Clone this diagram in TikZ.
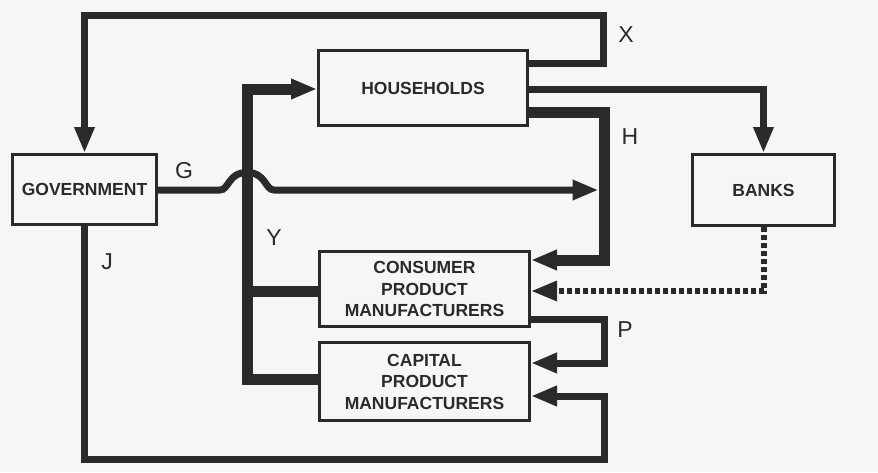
\documentclass[tikz,border=0pt]{standalone}
\usepackage{fontspec}
\setmainfont{Liberation Sans}
\usetikzlibrary{arrows.meta}
\definecolor{ink}{RGB}{42,42,42}
\definecolor{paper}{RGB}{246,246,246}
\begin{document}
\begin{tikzpicture}[x=1pt,y=-1pt,
  box/.style={draw=ink, line width=3pt, inner sep=0pt, text=ink, align=center,
    font=\bfseries\fontsize{17.5}{21.5}\selectfont},
  thinline/.style={draw=ink, line width=7pt},
  thickline/.style={draw=ink, line width=11pt},
  dotline/.style={draw=ink, line width=6pt, dash pattern=on 5pt off 3pt},
  arr/.style={-{Triangle[length=26pt,width=19pt]}},
  lbl/.style={text=ink, inner sep=0pt, font=\fontsize{23}{23}\selectfont},
]
\fill[paper] (0,0) rectangle (878,472);
\useasboundingbox (0,0) rectangle (878,472);

% boxes
\node[box, minimum width=209pt, minimum height=75pt] (hh) at (423,88) {HOUSEHOLDS};
\node[box, minimum width=144pt, minimum height=70pt] (gov) at (84.5,189.5) {GOVERNMENT};
\node[box, minimum width=142pt, minimum height=71pt] (banks) at (763.5,190) {BANKS};
\node[box, minimum width=210pt, minimum height=75pt] (cons) at (424.5,289) {CONSUMER\\PRODUCT\\MANUFACTURERS};
\node[box, minimum width=210pt, minimum height=78pt] (cap) at (424.5,381.5) {CAPITAL\\PRODUCT\\MANUFACTURERS};

% X : households -> government
\draw[thinline, arr] (hh.east |- 0,63) -- (603,63) -- (603,15.5) -- (gov.north |- 0,15.5) -- (gov.north);

% households -> banks
\draw[thinline, arr] (hh.east |- 0,89) -- (banks.north |- 0,89) -- (banks.north);

% H : households -> consumer
\draw[thickline, arr] (hh.east |- 0,112) -- (604,112) -- (604,260) -- (cons.east |- 0,260);

% G : government -> H line (with hop over Y)
\coordinate (gend) at (598.5,190);
\draw[thinline, arr] (gov.east |- 0,190) -- (220,190)
  .. controls (229,190) and (228,172.5) .. (247,172.5)
  .. controls (266,172.5) and (265,190) .. (274,190) -- (gend);

% Y : firms -> households
\draw[thickline] (cons.west |- 0,291) -- (247,291);
\draw[thickline, arr] (cap.west |- 0,379) -- (247,379) -- (247,89) -- (hh.west |- 0,89);

% J : government -> capital
\draw[thinline, arr] (gov.south) -- (gov.south |- 0,459) -- (604,459) -- (604,396) -- (cap.east |- 0,396);

% P : consumer -> capital
\draw[thinline, arr] (cons.east |- 0,319) -- (604,319) -- (604,363) -- (cap.east |- 0,363);

% banks -> consumer (dotted)
\draw[dotline, arr] (banks.south) -- (banks.south |- 0,291) -- (cons.east |- 0,291);

% labels
\node[lbl] (lx) at (626,35) {X};
\node[lbl] (lh) at (630,137) {H};
\node[lbl] (lg) at (184,171) {G};
\node[lbl] (ly) at (274,238) {Y};
\node[lbl] (lj) at (107,262) {J};
\node[lbl] (lp) at (625,330) {P};
\end{tikzpicture}
\end{document}
